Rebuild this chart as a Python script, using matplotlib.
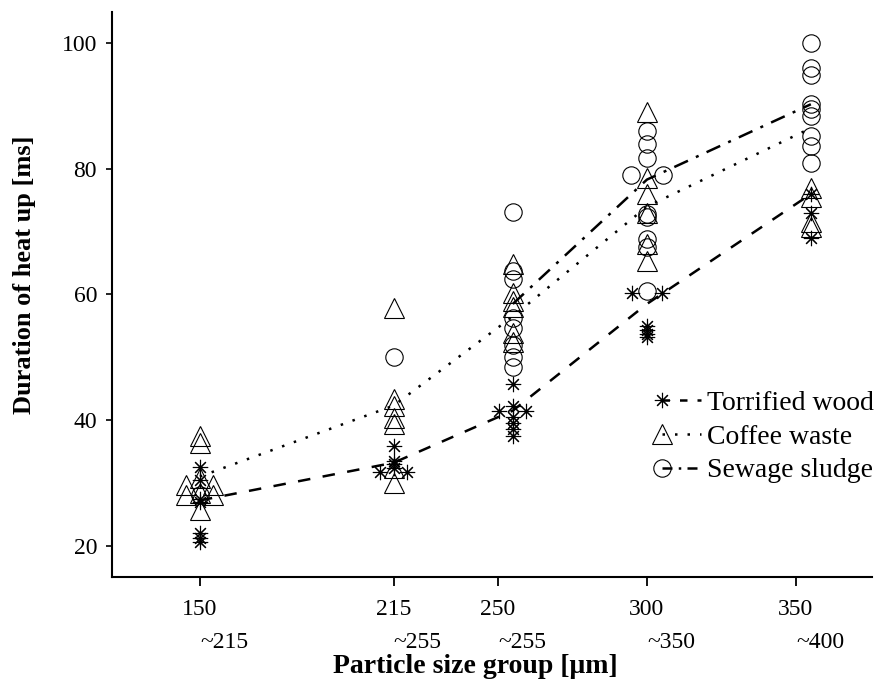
import matplotlib
matplotlib.use("Agg")
import matplotlib.pyplot as plt
from matplotlib.legend_handler import HandlerLine2D

plt.rcParams["font.family"] = "Liberation Serif"
plt.rcParams["font.size"] = 17

# x axis: tick positions and the two-row labels
tick_pos = [150, 215, 250, 300, 350]
tick_top = ["150", "215", "250", "300", "350"]
tick_bottom = ["~215", "~255", "~255", "~350", "~400"]

# group centres of the plotted points
group_x = [150, 215, 255, 300, 355]

# mean lines
wood_mean = [27.2, 33.2, 41.5, 58.5, 76.0]
coffee_mean = [31.0, 42.3, 56.5, 74.0, 86.5]
sludge_line_x = [255, 300, 355]
sludge_mean = [58.5, 78.3, 90.3]

# individual measurements
wood_x = [150, 150, 150, 150, 150, 150, 150,
          215, 215, 215, 215, 210.5, 219.5,
          255, 255, 250.5, 259.5, 255, 255, 255, 255,
          295, 305, 300, 300, 300, 300,
          355, 355, 355]
wood_y = [32.5, 30.4, 27.5, 27.0, 22.0, 21.2, 20.5,
          35.8, 33.5, 33.0, 32.3, 31.7, 31.7,
          45.8, 42.3, 41.5, 41.5, 40.5, 39.5, 38.5, 37.5,
          60.3, 60.3, 55.0, 54.3, 53.7, 53.2,
          76.0, 73.0, 69.0]

coffee_x = [150, 150, 150, 145.5, 154.5, 150, 145.5, 154.5, 150,
            215, 215, 215, 215, 215, 215, 215,
            255, 255, 255, 255, 255, 255,
            300, 300, 300, 300, 300, 300,
            355, 355, 355, 355]
coffee_y = [37.5, 36.4, 30.8, 29.6, 29.6, 28.4, 28.0, 28.0, 25.6,
            57.8, 43.4, 42.2, 40.3, 39.4, 32.3, 29.9,
            64.8, 60.2, 59.0, 58.0, 53.8, 52.5,
            89.0, 78.6, 76.0, 73.0, 68.0, 65.4,
            76.9, 75.5, 71.5, 70.7]

sludge_x = [150,
            215,
            255, 255, 255, 255, 255, 255, 255, 255,
            300, 300, 300, 294.6, 305.4, 300, 300, 300, 300, 300,
            355, 355, 355, 355, 355, 355, 355, 355, 355]
sludge_y = [28.0,
            50.1,
            73.1, 63.8, 62.5, 56.3, 54.7, 52.0, 50.0, 48.4,
            86.1, 84.0, 81.7, 79.0, 79.0, 72.9, 72.3, 68.8, 67.5, 60.6,
            100.0, 96.0, 95.0, 90.4, 89.6, 88.5, 85.3, 83.7, 80.9]


class LeftMarker(HandlerLine2D):
    # marker at the left end of the legend line instead of the middle
    def create_artists(self, legend, orig_handle, xdescent, ydescent, width, height, fontsize, trans):
        arts = super().create_artists(legend, orig_handle, xdescent, ydescent, width, height, fontsize, trans)
        arts[0].set_markevery([0])
        return arts


ASTER = (8, 2, 0)
fig = plt.figure(figsize=(8.82, 6.88), dpi=100)
ax = fig.add_axes([0.1266, 0.1613, 0.862, 0.8213])

mk = dict(mfc="none", mec="black", mew=0.8)
ax.plot(wood_x, wood_y, ls="none", marker=ASTER, ms=11, **mk)
ax.plot(coffee_x, coffee_y, ls="none", marker="^", ms=14, **mk)
ax.plot(sludge_x, sludge_y, ls="none", marker="o", ms=12.5, **mk)

ax.plot(group_x, wood_mean, color="black", lw=1.8, dashes=(5, 5))
ax.plot(group_x, coffee_mean, color="black", lw=1.8, dashes=(1, 4))
ax.plot(sludge_line_x, sludge_mean, color="black", lw=1.8, dashes=(6, 3.5, 1.2, 3.5))

h1, = ax.plot([], [], color="black", lw=1.8, dashes=(3, 4), marker=ASTER, ms=11, **mk)
h2, = ax.plot([], [], color="black", lw=1.8, dashes=(1, 4), marker="^", ms=14, **mk)
h3, = ax.plot([], [], color="black", lw=1.8, dashes=(4, 2.5, 1, 2.5), marker="o", ms=12.5, **mk)
ax.legend([h1, h2, h3], ["Torrified wood", "Coffee waste", "Sewage sludge"],
          loc="center left", bbox_to_anchor=(0.724, 0.248), frameon=False,
          fontsize=20, handlelength=1.4, handletextpad=0.2, labelspacing=0.3,
          borderpad=0, borderaxespad=0,
          handler_map={h1: LeftMarker(), h2: LeftMarker(), h3: LeftMarker()})

ax.set_xlim(120.4, 375.5)
ax.set_ylim(15, 105)
ax.set_yticks([20, 40, 60, 80, 100])
ax.set_xticks(tick_pos, tick_top)
for x, lab in zip(tick_pos, tick_bottom):
    ax.text(x, -0.116, lab, transform=ax.get_xaxis_transform(), ha="left", va="center")

ax.spines[["right", "top"]].set_visible(False)
ax.spines[["left", "bottom"]].set_linewidth(1.5)
ax.tick_params(axis="x", length=6.5, width=1.3, pad=9)
ax.tick_params(axis="y", length=4.5, width=1.2, pad=6)

ax.set_xlabel("Particle size group [\u03bcm]", fontweight="bold", fontsize=20, va="center")
ax.xaxis.set_label_coords(0.478, -0.159)
ax.set_ylabel("Duration of heat up [ms]", fontweight="bold", fontsize=19, va="center")
ax.yaxis.set_label_coords(-0.114, 0.535)

fig.savefig("out.png", dpi=100)
